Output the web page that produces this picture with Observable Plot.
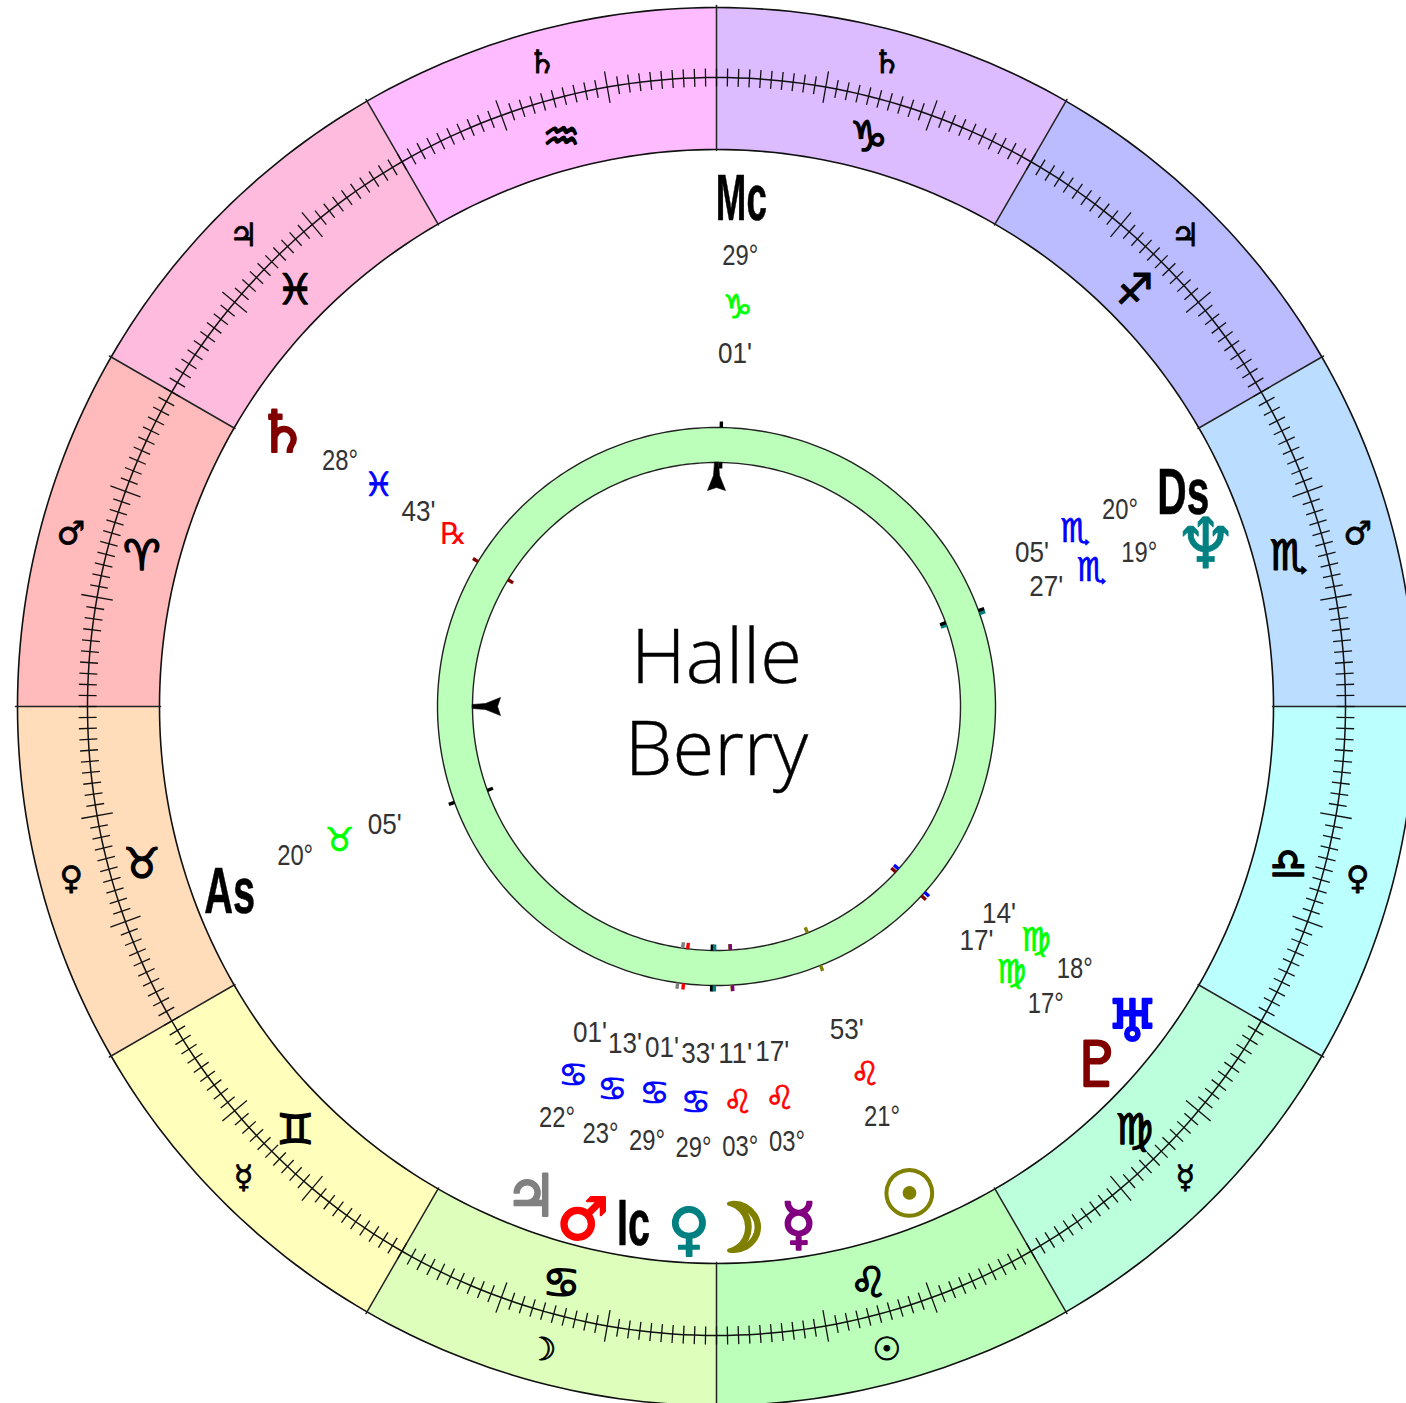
<!DOCTYPE html>
<html>
<head>
<meta charset="utf-8">
<style>html,body{margin:0;padding:0;background:#fff;overflow:hidden}svg{display:block}</style>
<script src="https://cdn.jsdelivr.net/npm/d3@7"></script>
<script src="https://cdn.jsdelivr.net/npm/@observablehq/plot@0.6"></script>
</head>
<body>
<div id="chart"></div>
<script>
// Zodiac, starting at Aries
const signGlyphs = ["♈","♉","♊","♋","♌","♍","♎","♏","♐","♑","♒","♓"].map(s => s + "\uFE0E");
const signFills = ["#ffbbbb","#ffddbb","#ffffbb","#ddffbb","#bbffbb","#bbffdd","#bbffff","#bbddff","#bbbbff","#ddbbff","#ffbbff","#ffbbdd"];
const rulers = ["♂","♀","☿","☽","☉","☿","♀","♂","♃","♄","♄","♃"].map(s => s + "\uFE0E");
const signColors = ["#ff0000","#00ff00","#dddd00","#0000ff"]; // fire, earth, air, water

// Chart points
const names      = ["Jupiter","Mars","Ic","Venus","Moon","Mercury","Sun","Pluto","Uranus","Neptune","Ds","Saturn","As","Mc"];
const glyphs     = ["♃","♂","Ic","♀","☽","☿","☉","♇","♅","♆","Ds","♄","As","Mc"];
const colors     = ["#808080","#ff0000","#000000","#008080","#808000","#800080","#808000","#800000","#0000ff","#008080","#000000","#800000","#000000","#000000"];
const signIndex  = [3,3,3,3,4,4,4,5,5,7,7,11,1,9];
const degrees    = [22,23,29,29,3,3,21,17,18,19,20,28,20,29];
const minutes    = [1,13,1,33,11,17,53,17,14,27,5,43,5,1];
// Angle at which each label column is fanned out (degrees of the wheel)
const shownAt    = [98.8,104.8,110.9,117,123.1,129.2,142,168,173.8,230,236,356.8,49.5,297];
const glyphAt    = [99.3,105.4,110.9,117,122,129,141.5,166.6,172.8,228.2,234.5,357.8,50.9,297.2];
const glyphRing  = [525,531,525,525,524,525,526,524,522,515,513,513,521,508];
const degRing    = [441,442,439,441,441,441,442,443,444,450,449,450,447,452];
const zodRing    = [396,397,392,396,397,397,397,397,396,399,399,404,400,400];
const minRing    = [350,349,345,347,347,349,348,350,350,351,351,356,352,354];
const angleWidth = {Ic:33, Ds:52, As:51, Mc:51};
const bodySize   = {"☉":66, "☽":66, "♇":62, "♆":70};
const bodyStroke = {"☉":1.6, "☽":4, "♀":1.6, "♆":0.8};

const pad = n => String(n).padStart(2, "0");
const pol = (lon, r) => {
  const a = (150 + lon) * Math.PI / 180;
  return {x: r * Math.cos(a), y: -r * Math.sin(a)};
};
const longitude = i => signIndex[i] * 30 + degrees[i] + minutes[i] / 60;
const idx = d3.range(names.length);

const arc = (a0, a1, r) => d3.range(a0, a1 + 0.01, 1).map(l => pol(l, r));
const wedge = i => [...arc(i * 30, i * 30 + 30, 699), ...arc(i * 30, i * 30 + 30, 557).reverse()];
const annulus = (r0, r1) => [...arc(0, 360, r1), ...arc(0, 360, r0).reverse()];

const xy = {x: "x", y: "y"};
const marks = [];

// Zodiac bands
signFills.forEach((f, i) => {
  marks.push(Plot.line(wedge(i), {...xy, curve: "linear-closed", fill: f, stroke: "none"}));
});
marks.push(Plot.line(arc(0, 360, 699), {...xy, stroke: "#111", strokeWidth: 1.6}));
marks.push(Plot.line(arc(0, 360, 557), {...xy, stroke: "#111", strokeWidth: 1.6}));
signFills.forEach((f, i) => {
  marks.push(Plot.line([pol(i * 30, 556), pol(i * 30, 701)], {...xy, stroke: "#222", strokeWidth: 1.5}));
});

// Degree scale
marks.push(Plot.line(arc(0, 360, 629), {...xy, stroke: "#111", strokeWidth: 1.5}));
const ticks = d3.range(0, 360).map(l => {
  const long = l % 10 === 0 && l % 30 !== 0;
  const half = long ? 16 : 9;
  const a = pol(l, 629 - half), b = pol(l, 629 + half);
  return {x1: a.x, y1: a.y, x2: b.x, y2: b.y};
});
marks.push(Plot.link(ticks, {x1: "x1", y1: "y1", x2: "x2", y2: "y2", stroke: "#111", strokeWidth: 1.3}));

// Sign and ruler glyphs
const bandText = signGlyphs.map((g, i) => ({g, ...pol(i * 30 + 15, 593.5)}));
const rulerText = rulers.map((g, i) => ({g, ...pol(i * 30 + 15, 666)}));
marks.push(Plot.text(bandText, {...xy, text: "g", dx: -1.5, dy: 4, fontFamily: "DejaVu Sans", fontWeight: "bold", fontSize: 42, fill: "#000", stroke: "#000", strokeWidth: 1.4}));
marks.push(Plot.text(rulerText, {...xy, text: "g", dx: -2, fontFamily: "DejaVu Sans", fontWeight: "bold", fontSize: 32, fill: "#000", stroke: "#000", strokeWidth: 0.8}));

// Inner ring
marks.push(Plot.line(annulus(244, 279), {...xy, curve: "linear-closed", fill: "#bbffbb", stroke: "none"}));
marks.push(Plot.line(arc(0, 360, 279), {...xy, stroke: "#222", strokeWidth: 1.4}));
marks.push(Plot.line(arc(0, 360, 244), {...xy, stroke: "#222", strokeWidth: 1.4}));

// Colored position ticks on both edges of the ring
const ringTicks = idx.flatMap(i => {
  const lon = longitude(i);
  const o0 = pol(lon, 279), o1 = pol(lon, 285), n0 = pol(lon, 244), n1 = pol(lon, 238);
  return [
    {x1: o0.x, y1: o0.y, x2: o1.x, y2: o1.y, c: colors[i]},
    {x1: n0.x, y1: n0.y, x2: n1.x, y2: n1.y, c: colors[i]}
  ];
});
marks.push(Plot.link(ringTicks, {x1: "x1", y1: "y1", x2: "x2", y2: "y2", stroke: "c", strokeWidth: 3.4}));

// Arrowheads for the Ascendant and Midheaven axes
const arrowDepth = [244, 231, 216, 219, 216, 231, 244];
const arrowSpread = [-2, -3, -9, 0, 9, 3, 2];
[{ax: 30}, {ax: 300}].forEach(({ax}) => {
  const a = (150 + ax) * Math.PI / 180;
  const pts = arrowDepth.map((r, k) => ({
    x: r * Math.cos(a) - arrowSpread[k] * Math.sin(a),
    y: -r * Math.sin(a) - arrowSpread[k] * Math.cos(a)
  }));
  marks.push(Plot.line(pts, {...xy, curve: "linear-closed", fill: "#000", stroke: "#000", strokeWidth: 0.6}));
});

// Point glyphs
const pointRows = idx.map(i => ({g: glyphs[i], c: colors[i], ...pol(glyphAt[i], glyphRing[i])}));
const bodies = pointRows.filter(d => !angleWidth[d.g]);
const angles = pointRows.filter(d => angleWidth[d.g]);
const bodyMark = (rows, fontWeight) => Plot.text(rows.map(d => ({...d, t: d.g + "\uFE0E", fs: bodySize[d.g] ?? 58, sw: bodyStroke[d.g] ?? 2.2})), {
  ...xy, text: "t", fill: "c", stroke: "c", strokeWidth: "sw", fontSize: "fs", fontFamily: "DejaVu Sans", fontWeight
});
marks.push(bodyMark(bodies.filter(d => d.g !== "♆"), "bold"));
marks.push(bodyMark(bodies.filter(d => d.g === "♆"), "normal"));
marks.push(Plot.text(angles, {...xy, text: "g", fill: "#000", stroke: "#000", strokeWidth: 0.6, fontFamily: "Liberation Sans", fontWeight: "bold", fontSize: 64, className: "angle-label"}));

// Position columns: degrees, sign, minutes
const labelFont = {fontFamily: "Liberation Sans", fontSize: 30, fill: "#333", className: "pos-label"};
const degRows = idx.map(i => ({t: pad(degrees[i]) + "°", ...pol(shownAt[i], degRing[i])}));
const minRows = idx.map(i => ({t: pad(minutes[i]) + "'", ...pol(shownAt[i], minRing[i])}));
const zodRows = idx.map(i => ({
  t: signGlyphs[signIndex[i]],
  c: signColors[signIndex[i] % 4],
  ...pol(shownAt[i], zodRing[i])
}));
marks.push(Plot.text(degRows, {...xy, text: "t", ...labelFont}));
marks.push(Plot.text(minRows, {...xy, text: "t", ...labelFont}));
marks.push(Plot.text(zodRows, {...xy, text: "t", fill: "c", stroke: "c", strokeWidth: 0.8, fontFamily: "DejaVu Sans", fontSize: 33}));

// Retrograde mark for Saturn
const satIdx = names.indexOf("Saturn");
marks.push(Plot.text([{t: "℞", ...pol(shownAt[satIdx], 314)}], {...xy, text: "t", fill: "#ff0000", fontFamily: "DejaVu Sans", fontSize: 30}));

// Name in the centre
const nameLines = ["Halle", "Berry"];
marks.push(Plot.text(nameLines.map((t, i) => ({t, x: 0, y: i === 0 ? -48 : 44})), {...xy, text: "t", fill: "#000", stroke: "#000", strokeWidth: 0.4, fontFamily: "Open Sans", fontWeight: 300, fontSize: 76}));

const chart = Plot.plot({
  width: 1406,
  height: 1403,
  margin: 0,
  x: {domain: [-716, 690], range: [0, 1406], axis: null},
  y: {domain: [-706, 697], range: [0, 1403], axis: null},
  color: {type: "identity"},
  style: {background: "#fff"},
  marks
});
document.getElementById("chart").append(chart);

d3.select(chart).selectAll(".angle-label text")
  .attr("textLength", function () { return angleWidth[this.textContent]; })
  .attr("lengthAdjust", "spacingAndGlyphs");
d3.select(chart).selectAll(".pos-label text")
  .attr("textLength", function () { return this.textContent.endsWith("°") ? 36 : 34; })
  .attr("lengthAdjust", "spacingAndGlyphs");
</script>
</body>
</html>
